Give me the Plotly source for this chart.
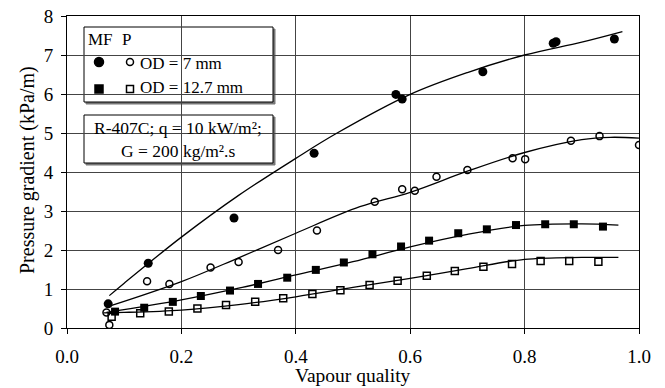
import plotly.graph_objects as go

# Data: MF (filled) and P (open), OD = 7 mm (circles) and 12.7 mm (squares)
mf7_x = [0.072, 0.142, 0.292, 0.432, 0.575, 0.586, 0.727, 0.850, 0.855, 0.957]
mf7_y = [0.62, 1.66, 2.82, 4.48, 5.99, 5.87, 6.57, 7.30, 7.34, 7.41]

p7_x = [0.074, 0.069, 0.140, 0.179, 0.251, 0.300, 0.369, 0.437, 0.538, 0.586,
        0.608, 0.646, 0.700, 0.779, 0.801, 0.881, 0.931, 1.000]
p7_y = [0.08, 0.40, 1.20, 1.13, 1.55, 1.69, 2.00, 2.50, 3.24, 3.56,
        3.52, 3.88, 4.05, 4.35, 4.33, 4.80, 4.92, 4.69]

mf12_x = [0.084, 0.135, 0.185, 0.234, 0.285, 0.334, 0.385, 0.435, 0.484, 0.534,
          0.584, 0.633, 0.684, 0.734, 0.785, 0.836, 0.886, 0.937]
mf12_y = [0.42, 0.52, 0.67, 0.82, 0.96, 1.13, 1.29, 1.49, 1.68, 1.89,
          2.09, 2.24, 2.43, 2.53, 2.64, 2.66, 2.66, 2.60]

p12_x = [0.078, 0.128, 0.178, 0.228, 0.278, 0.329, 0.378, 0.429, 0.478, 0.529,
         0.578, 0.629, 0.678, 0.728, 0.778, 0.828, 0.878, 0.929]
p12_y = [0.29, 0.38, 0.42, 0.50, 0.59, 0.67, 0.76, 0.87, 0.97, 1.10,
         1.21, 1.34, 1.46, 1.57, 1.64, 1.72, 1.72, 1.70]

# Trend curves
c1_x = [0.074, 0.1, 0.2, 0.3, 0.4, 0.47, 0.6, 0.7, 0.8, 0.9, 0.971]
c1_y = [0.83, 1.15, 2.33, 3.40, 4.35, 4.98, 5.99, 6.55, 7.0, 7.33, 7.6]
c2_x = [0.074, 0.2, 0.3, 0.4, 0.512, 0.6, 0.7, 0.8, 0.9, 0.95, 1.0]
c2_y = [0.56, 1.19, 1.80, 2.43, 3.11, 3.48, 4.02, 4.50, 4.83, 4.89, 4.87]
c3_x = [0.069, 0.2, 0.3, 0.4, 0.5, 0.6, 0.7, 0.8, 0.9, 0.964]
c3_y = [0.40, 0.72, 1.02, 1.36, 1.70, 2.08, 2.40, 2.63, 2.67, 2.64]
c4_x = [0.064, 0.1, 0.2, 0.3, 0.4, 0.5, 0.6, 0.7, 0.8, 0.9, 0.964]
c4_y = [0.39, 0.40, 0.46, 0.60, 0.80, 1.04, 1.27, 1.52, 1.76, 1.81, 1.81]

x_ticks = [0.0, 0.2, 0.4, 0.6, 0.8, 1.0]
x_tick_text = ["0.0", "0.2", "0.4", "0.6", "0.8", "1.0"]
y_ticks = [0, 1, 2, 3, 4, 5, 6, 7, 8]

FONT = "Liberation Serif, Times New Roman, serif"

fig = go.Figure()
for cx, cy in [(c1_x, c1_y), (c2_x, c2_y), (c3_x, c3_y), (c4_x, c4_y)]:
    fig.add_trace(go.Scatter(x=cx, y=cy, mode="lines",
                             line=dict(color="black", width=1.3, shape="spline", smoothing=1.0),
                             showlegend=False, hoverinfo="skip"))

fig.add_trace(go.Scatter(x=mf7_x, y=mf7_y, mode="markers",
                         marker=dict(symbol="circle", size=9, color="black"), showlegend=False))
fig.add_trace(go.Scatter(x=p7_x, y=p7_y, mode="markers",
                         marker=dict(symbol="circle-open", size=7, color="black",
                                     line=dict(width=1.5, color="black")), showlegend=False))
fig.add_trace(go.Scatter(x=mf12_x, y=mf12_y, mode="markers",
                         marker=dict(symbol="square", size=8, color="black"), showlegend=False))
fig.add_trace(go.Scatter(x=p12_x, y=p12_y, mode="markers",
                         marker=dict(symbol="square-open", size=7, color="black",
                                     line=dict(width=1.5, color="black")), showlegend=False))

fig.update_layout(
    width=665, height=388,
    margin=dict(l=67, r=26, t=16, b=60, autoexpand=False),
    paper_bgcolor="white", plot_bgcolor="white",
    font=dict(family=FONT, size=19, color="black"),
    xaxis=dict(range=[0, 1], tickvals=x_ticks, ticktext=x_tick_text,
               showgrid=True, gridcolor="#444", gridwidth=1,
               showline=True, linecolor="black", linewidth=1, mirror=True,
               ticks="outside", ticklen=5, tickcolor="black", zeroline=False,
               automargin=False, ticklabeloverflow="allow", ticklabelstandoff=6,
               tickfont=dict(family=FONT, size=19, color="black")),
    yaxis=dict(range=[0, 8], tickvals=y_ticks,
               showgrid=True, gridcolor="#444", gridwidth=1,
               showline=True, linecolor="black", linewidth=1, mirror=True,
               ticks="outside", ticklen=5, tickcolor="black", zeroline=False,
               automargin=False, ticklabeloverflow="allow", ticklabelstandoff=4,
               tickfont=dict(family=FONT, size=19, color="black")),
)

# Helpers mapping picture pixels to plot-area paper coordinates
def px2x(px):
    return (px - 67) / 572.0

def py2y(py):
    return (328 - py) / 312.0

for (x0, y0, x1, y1) in [(84, 27, 273, 102), (84, 115, 273, 163)]:
    fig.add_shape(type="rect", xref="paper", yref="paper",
                  x0=px2x(x0 + 2), x1=px2x(x1 + 2), y0=py2y(y1 + 2), y1=py2y(y0 + 2),
                  line=dict(color="#777", width=1), fillcolor="#777", layer="between")
    fig.add_shape(type="rect", xref="paper", yref="paper",
                  x0=px2x(x0), x1=px2x(x1), y0=py2y(y1), y1=py2y(y0),
                  line=dict(color="black", width=1), fillcolor="white", layer="between")

def ann(text, px, py, size=17, xanchor="left", angle=0):
    fig.add_annotation(text=text, xref="paper", yref="paper", x=px2x(px), y=py2y(py),
                       xanchor=xanchor, yanchor="middle", showarrow=False, textangle=angle,
                       font=dict(family=FONT, size=size, color="black"))

ann("MF", 86, 40)
ann("P", 120, 40)
ann("OD = 7 mm", 138, 63)
ann("OD = 12.7 mm", 138, 88)
ann("R-407C; q = 10 kW/m²;", 178, 128, size=17.5, xanchor="center")
ann("G = 200 kg/m².s", 178, 151, size=17.5, xanchor="center")

# axis titles
ann("Vapour quality", 353, 376, size=19.5, xanchor="center")
ann("Pressure gradient (kPa/m)", 27, 170, size=20, xanchor="center", angle=-90)

# legend symbols on an overlay axis spanning the plot area (pixel-based layout)
leg_sym_x = [99, 130, 99, 130]
leg_sym_y = [62, 62, 89, 89]
leg_symbols = ["circle", "circle-open", "square", "square-open"]
leg_sizes = [9, 7, 8, 7]
for sx, sy, sym, sz in zip(leg_sym_x, leg_sym_y, leg_symbols, leg_sizes):
    fig.add_trace(go.Scatter(x=[px2x(sx)], y=[py2y(sy)], xaxis="x2", yaxis="y2",
                             mode="markers",
                             marker=dict(symbol=sym, size=sz, color="black",
                                         line=dict(width=1.5, color="black")),
                             showlegend=False, hoverinfo="skip"))
fig.update_layout(
    xaxis2=dict(range=[0, 1], overlaying="x", visible=False, showgrid=False),
    yaxis2=dict(range=[0, 1], overlaying="y", visible=False, showgrid=False),
)

# remove the default page body margin so the figure fills the window exactly
fig.write_html("out.html", config={"displayModeBar": False},
               post_script="document.body.style.margin='0';")
